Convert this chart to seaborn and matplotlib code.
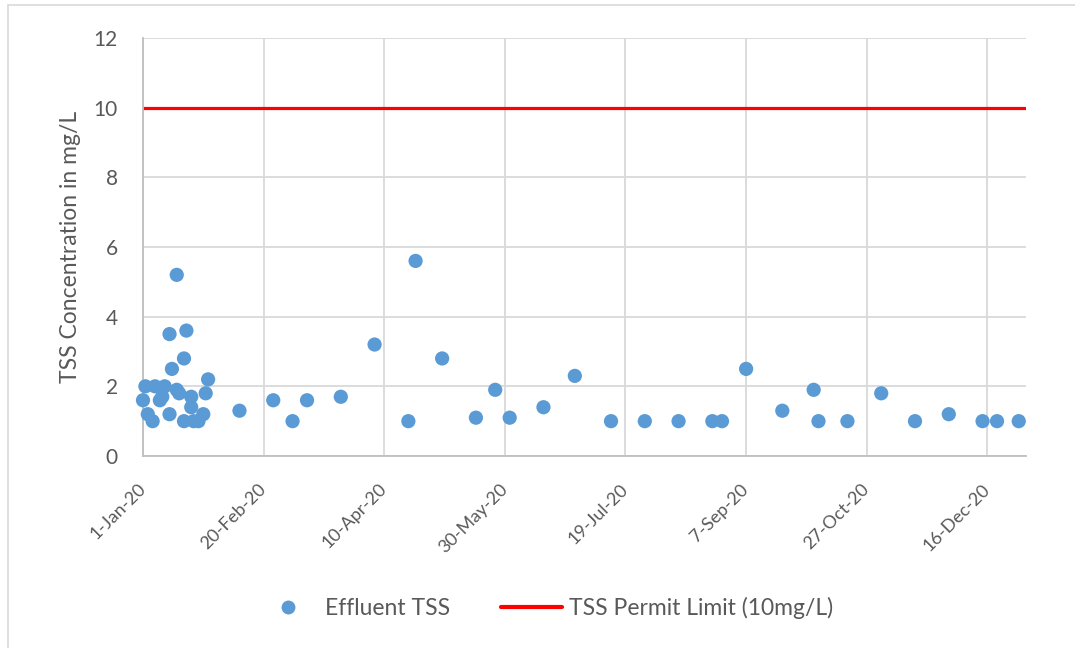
import matplotlib
matplotlib.use("Agg")
import matplotlib.pyplot as plt
from matplotlib.lines import Line2D
import seaborn as sns
import pandas as pd

# Effluent TSS sample dates and concentrations (mg/L)
sample_dates = [
    "2020-01-01", "2020-01-02", "2020-01-03", "2020-01-05", "2020-01-06",
    "2020-01-08", "2020-01-09", "2020-01-10", "2020-01-12", "2020-01-12",
    "2020-01-13", "2020-01-15", "2020-01-15", "2020-01-16", "2020-01-18",
    "2020-01-18", "2020-01-19", "2020-01-21", "2020-01-21", "2020-01-22",
    "2020-01-24", "2020-01-26", "2020-01-27", "2020-01-28",
    "2020-02-10", "2020-02-24", "2020-03-03", "2020-03-09", "2020-03-23",
    "2020-04-06", "2020-04-20", "2020-04-23", "2020-05-04", "2020-05-18",
    "2020-05-26", "2020-06-01", "2020-06-15", "2020-06-28", "2020-07-13",
    "2020-07-27", "2020-08-10", "2020-08-24", "2020-08-28", "2020-09-07",
    "2020-09-22", "2020-10-05", "2020-10-07", "2020-10-19", "2020-11-02",
    "2020-11-16", "2020-11-30", "2020-12-14", "2020-12-20", "2020-12-29",
]
tss_values = [
    1.6, 2.0, 1.2, 1.0, 2.0,
    1.6, 1.7, 2.0, 1.2, 3.5,
    2.5, 5.2, 1.9, 1.8, 1.0,
    2.8, 3.6, 1.7, 1.4, 1.0,
    1.0, 1.2, 1.8, 2.2,
    1.3, 1.6, 1.0, 1.6, 1.7,
    3.2, 1.0, 5.6, 2.8, 1.1,
    1.9, 1.1, 1.4, 2.3, 1.0,
    1.0, 1.0, 1.0, 1.0, 2.5,
    1.3, 1.9, 1.0, 1.0, 1.8,
    1.0, 1.2, 1.0, 1.0, 1.0,
]

# Permit limit line across the year
limit_dates = ["2020-01-01", "2021-01-01"]
limit_values = [10, 10]

# Axis settings
y_ticks = [0, 2, 4, 6, 8, 10, 12]
x_start, x_end = "2020-01-01", "2021-01-01"
tick_step_days = 50

samples = pd.DataFrame({"date": pd.to_datetime(sample_dates), "tss": tss_values})
limit = pd.DataFrame({"date": pd.to_datetime(limit_dates), "tss": limit_values})

sns.set_theme(style="white")
plt.rcParams["font.family"] = ["Lato", "DejaVu Sans"]

text_grey = "#595959"
grid_grey = "#D9D9D9"
blue = "#5B9BD5"
red = "#FF0000"

fig = plt.figure(figsize=(10.75, 6.48), dpi=100)
fig.patch.set_facecolor("white")

# chart-area frame (left and top edges)
fig.add_artist(Line2D([8 / 1075, 8 / 1075], [0, 1 - 5 / 648], transform=fig.transFigure,
                      color=grid_grey, linewidth=1.2))
fig.add_artist(Line2D([8 / 1075, 1], [1 - 5 / 648, 1 - 5 / 648], transform=fig.transFigure,
                      color=grid_grey, linewidth=1.2))

ax = fig.add_axes([0.1330, 0.2963, 0.8214, 0.6451])

sns.lineplot(data=limit, x="date", y="tss", ax=ax, color=red, linewidth=2.3,
             zorder=2, legend=False)
sns.scatterplot(data=samples, x="date", y="tss", ax=ax, color=blue, s=105,
                edgecolor="none", zorder=3, legend=False, clip_on=False)

ax.set_xlim(pd.Timestamp(x_start), pd.Timestamp(x_end))
ax.set_ylim(y_ticks[0], y_ticks[-1])
ax.set_yticks(y_ticks)
xticks = pd.date_range(x_start, x_end, freq=f"{tick_step_days}D")
ax.set_xticks(xticks)
ax.set_xticklabels([f"{d.day}-{d.strftime('%b-%y')}" for d in xticks],
                   rotation=45, ha="right", va="center", rotation_mode="anchor")

ax.grid(True, color=grid_grey, linewidth=1.3)
ax.set_axisbelow(True)
for side in ["top", "right"]:
    ax.spines[side].set_visible(False)
for side in ["left", "bottom"]:
    ax.spines[side].set_color("#BFBFBF")
    ax.spines[side].set_linewidth(1.3)

ax.tick_params(axis="y", labelsize=15, colors=text_grey, length=0, pad=18)
ax.tick_params(axis="x", labelsize=13, colors=text_grey, length=0, pad=22)
ax.set_xlabel("")
ax.set_ylabel("TSS Concentration in mg/L", fontsize=16.5, color=text_grey, labelpad=9)

handles = [
    Line2D([], [], marker="o", linestyle="none", markerfacecolor=blue,
           markeredgecolor="none", markersize=10),
    Line2D([], [], color=red, linewidth=3),
]
fig.legend(handles, ["Effluent TSS", "TSS Permit Limit (10mg/L)"],
           loc="center", bbox_to_anchor=(0.507, 0.0617), ncol=2, frameon=False,
           fontsize=16.5, labelcolor=text_grey, columnspacing=2.2, handlelength=2.66,
           handletextpad=0.3, borderpad=0, borderaxespad=0)

fig.savefig("out.png", dpi=100, facecolor="white")
